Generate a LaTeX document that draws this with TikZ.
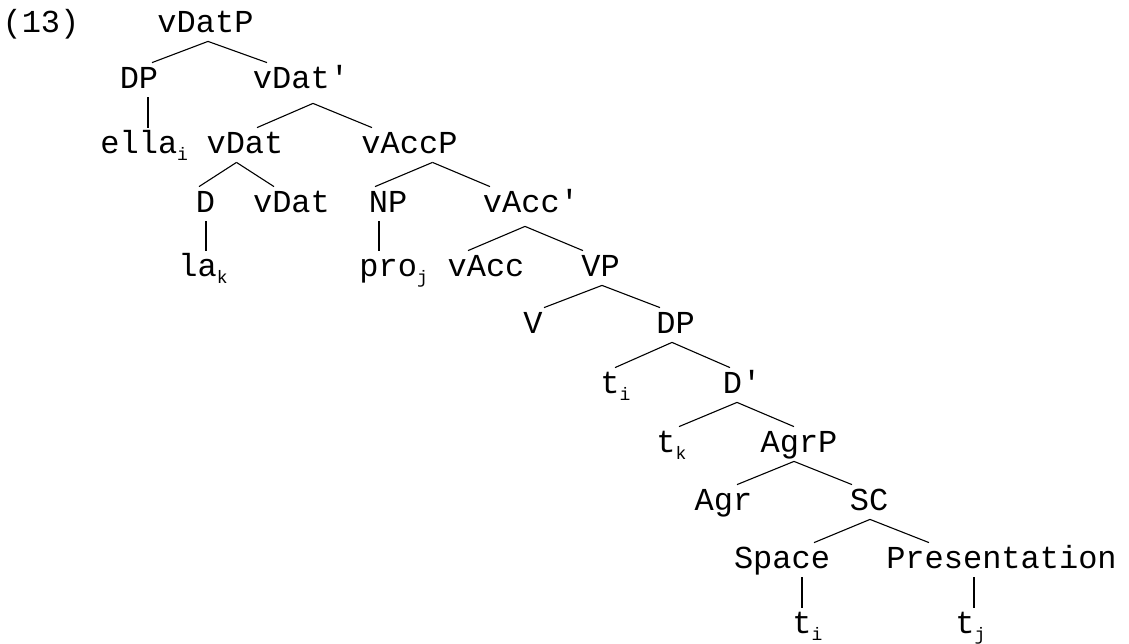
\documentclass[tikz,border=0pt]{standalone}
\usepackage{fontspec}
\setmainfont{Liberation Mono}
\usetikzlibrary{calc}
\newcommand{\trsub}[1]{\raisebox{-3.75pt}{\fontsize{9}{9}\selectfont #1}}
\newcommand{\pr}{\textquotesingle}
\tikzset{
  synnode/.style = {inner xsep=0pt, inner ysep=4.5pt, text height=8pt,
                    text depth=0pt, font=\fontsize{16}{19}\selectfont,
                    anchor=base},
  synleaf/.style = {synnode, anchor=base west},
  synedge/.style = {draw=black, line width=0.55pt},
}

\begin{document}
\begin{tikzpicture}[x=0.5pt, y=-0.5pt]
  \useasboundingbox (0,0) rectangle (1129,643);
  \node[synnode] (ex) at (41,32) {(13)};
  \node[synnode] (vdatp) at (205.5,32) {vDatP};
  \node[synnode] (dp) at (139,88) {DP};
  \node[synnode] (vdatbar) at (301,88) {vDat\pr};
  \node[synleaf] (ella) at (100,153) {ella\trsub{i}};
  \node[synnode] (vdat) at (245,153) {vDat};
  \node[synnode] (vaccp) at (409.5,153) {vAccP};
  \node[synnode] (d) at (205.5,212) {D};
  \node[synnode] (vdatlow) at (291.5,212) {vDat};
  \node[synnode] (np) at (388,212) {NP};
  \node[synnode] (vaccbar) at (531,212) {vAcc\pr};
  \node[synleaf] (la) at (178,276) {la\trsub{k}};
  \node[synleaf] (pro) at (359,276) {pro\trsub{j}};
  \node[synnode] (vacc) at (486,276) {vAcc};
  \node[synnode] (vp) at (600.5,276) {VP};
  \node[synnode] (v) at (533,333) {V};
  \node[synnode] (dplow) at (675.5,333) {DP};
  \node[synleaf] (ti) at (600,393) {t\trsub{i}};
  \node[synnode] (dbar) at (742,393) {D\pr};
  \node[synleaf] (tk) at (656,452) {t\trsub{k}};
  \node[synnode] (agrp) at (799,452) {AgrP};
  \node[synnode] (agr) at (723.5,510) {Agr};
  \node[synnode] (sc) at (869,510) {SC};
  \node[synnode] (space) at (782,568) {Space};
  \node[synnode] (pres) at (1001.5,568) {Presentation};
  \node[synleaf] (tisc) at (792,633) {t\trsub{i}};
  \node[synleaf] (tjsc) at (955,633) {t\trsub{j}};
  % branches
  \draw[synedge] ($(vdatp.south)+(2.5,0)$) -- ($(dp.north)+(13,0)$);
  \draw[synedge] ($(vdatp.south)+(2.5,0)$) -- ($(vdatbar.north)+(-34,0)$);
  \draw[synedge] ($(dp.south)+(9,0)$) -- ($(ella.north west)+(48,0)$);
  \draw[synedge] ($(vdatbar.south)+(12,6)$) -- ($(vdat.north)+(12,0)$);
  \draw[synedge] ($(vdatbar.south)+(12,6)$) -- ($(vaccp.north)+(-37.5,0)$);
  \draw[synedge] ($(vdat.south)+(-8.5,0)$) -- ($(d.north)+(-6.5,0)$);
  \draw[synedge] ($(vdat.south)+(-8.5,0)$) -- ($(vdatlow.north)+(-17.5,0)$);
  \draw[synedge] ($(vaccp.south)+(23,0)$) -- ($(np.north)+(-13,0)$);
  \draw[synedge] ($(vaccp.south)+(23,0)$) -- ($(vaccbar.north)+(-41,0)$);
  \draw[synedge] ($(d.south)+(0.5,0)$) -- ($(la.north west)+(28,0)$);
  \draw[synedge] ($(np.south)+(-9,0)$) -- ($(pro.north west)+(20,0)$);
  \draw[synedge] ($(vaccbar.south)+(-6,5)$) -- ($(vacc.north)+(-18,0)$);
  \draw[synedge] ($(vaccbar.south)+(-6,5)$) -- ($(vp.north)+(-17.5,0)$);
  \draw[synedge] ($(vp.south)+(1.5,0)$) -- ($(v.north)+(11,0)$);
  \draw[synedge] ($(vp.south)+(1.5,0)$) -- ($(dplow.north)+(-15.5,0)$);
  \draw[synedge] ($(dplow.south)+(-3.5,0)$) -- ($(ti.north west)+(15,0)$);
  \draw[synedge] ($(dplow.south)+(-3.5,0)$) -- ($(dbar.north)+(-12,0)$);
  \draw[synedge] ($(dbar.south)+(-5,0)$) -- ($(tk.north west)+(23,0)$);
  \draw[synedge] ($(dbar.south)+(-5,0)$) -- ($(agrp.north)+(-5,0)$);
  \draw[synedge] ($(agrp.south)+(-5,0)$) -- ($(agr.north)+(13.5,0)$);
  \draw[synedge] ($(agrp.south)+(-5,0)$) -- ($(sc.north)+(-17,0)$);
  \draw[synedge] ($(sc.south)+(1,0)$) -- ($(space.north)+(32,0)$);
  \draw[synedge] ($(sc.south)+(1,0)$) -- ($(pres.north)+(-72.5,0)$);
  \draw[synedge] ($(space.south)+(20,0)$) -- ($(tisc.north west)+(10,0)$);
  \draw[synedge] ($(pres.south)+(-27.5,0)$) -- ($(tjsc.north west)+(19,0)$);
\end{tikzpicture}
\end{document}
